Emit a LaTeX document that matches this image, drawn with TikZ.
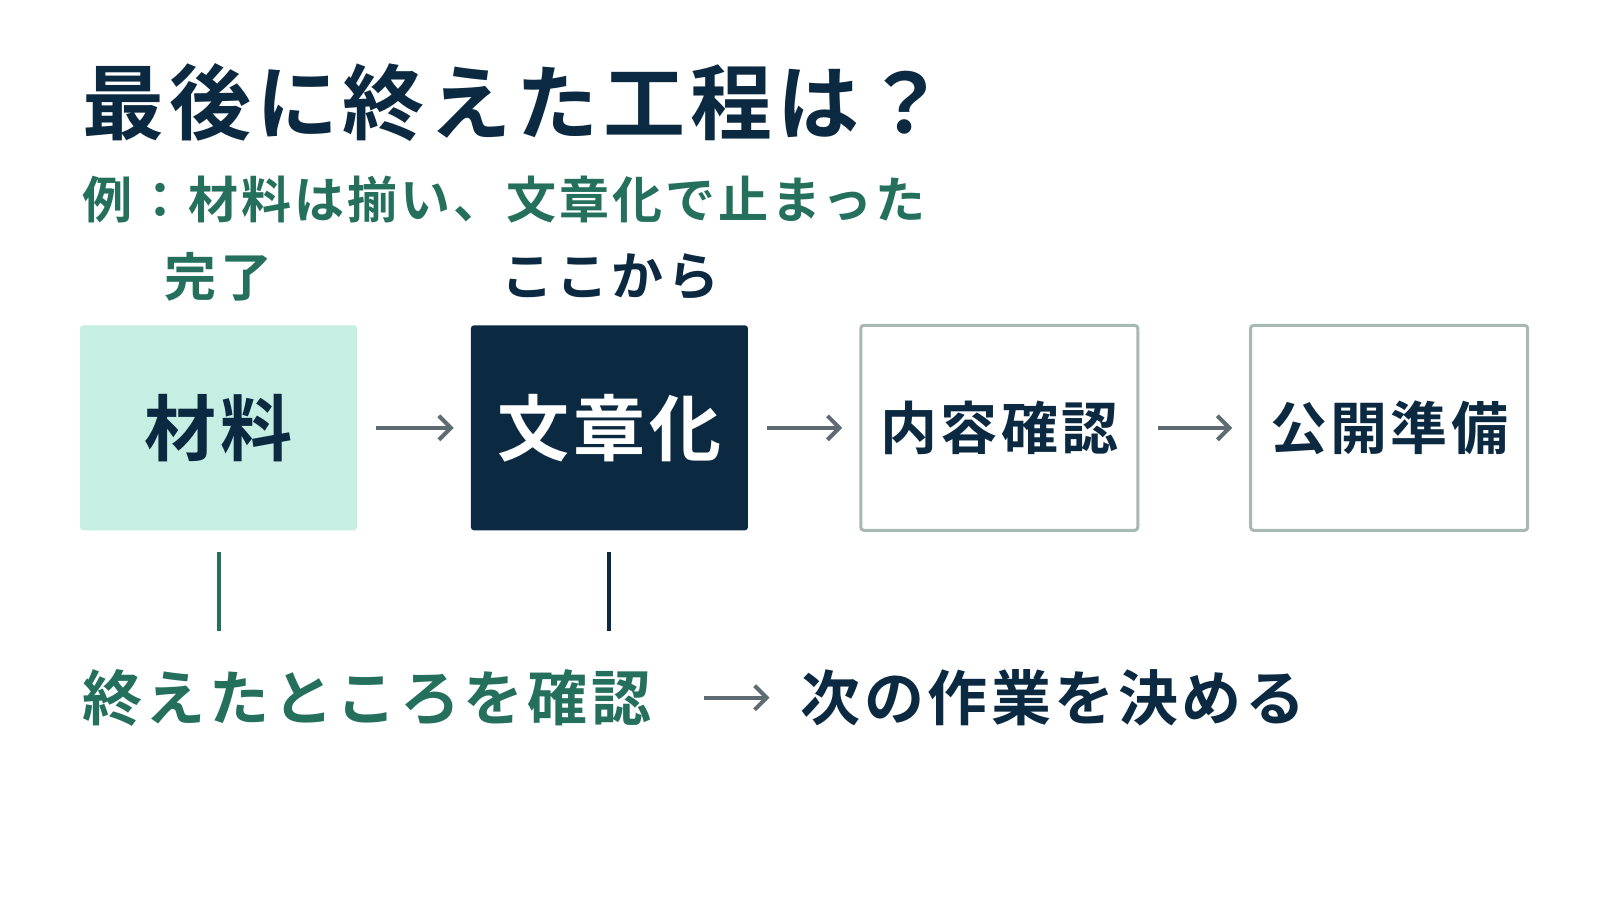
\documentclass[tikz,border=0pt]{standalone}
\usepackage{fontspec}
\newfontfamily\jp[LetterSpace=6]{Noto Sans CJK JP Bold}
\definecolor{navy}{HTML}{0B2A42}
\definecolor{grn}{HTML}{24705C}
\definecolor{mint}{HTML}{C6EEE2}
\definecolor{bord}{HTML}{A8B8B2}
\definecolor{arr}{HTML}{5F6B72}
\usetikzlibrary{arrows.meta}
\begin{document}
\begin{tikzpicture}[x=1.026pt,y=-1.026pt,
  box/.style={minimum width=277pt,minimum height=205pt,rounded corners=3pt,inner sep=0,font=\jp\fontsize{72}{76}\selectfont},
  ar/.style={draw=arr,line width=4pt,-{Straight Barb[length=12pt,width=24pt]}},
  t/.style={inner sep=0,font=\jp}]
\useasboundingbox (0,0) rectangle (1559.5,877.2);
\node[t,anchor=west,text=navy,font=\jp\fontsize{82}{90}\selectfont] (title) at (80,100) {最後に終えた工程は？};
\node[t,anchor=west,text=grn,font=\jp\fontsize{50}{56}\selectfont] (sub) at (80,195) {例：材料は揃い、文章化で止まった};
\node[t,text=grn,font=\jp\fontsize{52}{56}\selectfont] (done) at (213,270) {完了};
\node[t,text=navy,font=\jp\fontsize{52}{56}\selectfont] (here) at (595,270) {ここから};
\node[box,fill=mint,text=navy] (b1) at (213,417) {材料};
\node[box,fill=navy,text=white] (b2) at (594,417) {文章化};
\node[box,draw=bord,line width=3pt,fill=white,text=navy,font=\jp\fontsize{57}{60}\selectfont] (b3) at (974,417) {内容確認};
\node[box,draw=bord,line width=3pt,fill=white,text=navy,font=\jp\fontsize{57}{60}\selectfont] (b4) at (1354,417) {公開準備};
\draw[ar] ([xshift=19pt]b1.east) -- ([xshift=-17pt]b2.west);
\draw[ar] ([xshift=19pt]b2.east) -- ([xshift=-17pt]b3.west);
\draw[ar] ([xshift=19pt]b3.east) -- ([xshift=-17pt]b4.west);
\coordinate (l1a) at (213,538); \coordinate (l1b) at (213,615);
\coordinate (l2a) at (594,538); \coordinate (l2b) at (594,615);
\draw[grn,line width=4pt] (l1a) -- (l1b);
\draw[navy,line width=4pt] (l2a) -- (l2b);
\node[t,anchor=west,text=grn,font=\jp\fontsize{60}{64}\selectfont] (c1) at (80,680) {終えたところを確認};
\node[t,anchor=west,text=navy,font=\jp\fontsize{60}{64}\selectfont] (c2) at (780,680) {次の作業を決める};
\coordinate (a1) at (686,680); \coordinate (a2) at (750,680);
\draw[ar] (a1) -- (a2);
\end{tikzpicture}
\end{document}
